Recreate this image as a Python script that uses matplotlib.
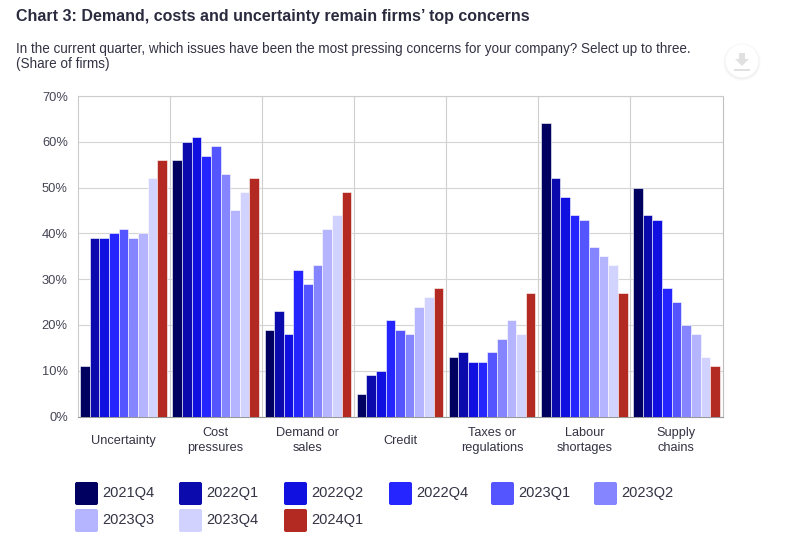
import matplotlib
matplotlib.use("Agg")
import matplotlib.pyplot as plt
import matplotlib.ticker as ticker
from matplotlib.patches import FancyBboxPatch, Circle, Rectangle, Polygon
import numpy as np

plt.rcParams['font.family'] = ['Liberation Sans', 'DejaVu Sans']

W, H = 794, 536

categories = ["Uncertainty", "Cost\npressures", "Demand or\nsales", "Credit",
              "Taxes or\nregulations", "Labour\nshortages", "Supply\nchains"]
quarters = ["2021Q4", "2022Q1", "2022Q2", "2022Q4", "2023Q1", "2023Q2", "2023Q3", "2023Q4", "2024Q1"]
colors = ["#000060", "#0a0aad", "#1010e0", "#2525ff", "#5555ff", "#8585ff", "#b5b5ff", "#d2d2ff", "#b22a22"]

q2021q4 = [11, 56, 19, 5, 13, 64, 50]
q2022q1 = [39, 60, 23, 9, 14, 52, 44]
q2022q2 = [39, 61, 18, 10, 12, 48, 43]
q2022q4 = [40, 57, 32, 21, 12, 44, 28]
q2023q1 = [41, 59, 29, 19, 14, 43, 25]
q2023q2 = [39, 53, 33, 18, 17, 37, 20]
q2023q3 = [40, 45, 41, 24, 21, 35, 18]
q2023q4 = [52, 49, 44, 26, 18, 33, 13]
q2024q1 = [56, 52, 49, 28, 27, 27, 11]
series = [q2021q4, q2022q1, q2022q2, q2022q4, q2023q1, q2023q2, q2023q3, q2023q4, q2024q1]

TEXT = "#333344"

fig = plt.figure(figsize=(W / 100, H / 100), dpi=100)
ax = fig.add_axes([77.5 / W, 1 - 416.5 / H, (722.5 - 77.5) / W, (416.5 - 96) / H])

x = np.arange(len(categories))
bar_w = 0.1045
for i, (vals, c) in enumerate(zip(series, colors)):
    ax.bar(x + (i - 4) * bar_w, vals, width=bar_w, color=c, edgecolor="white",
           linewidth=0.4, zorder=3, label=quarters[i])

ax.set_xlim(-0.5, len(categories) - 0.5)
ax.set_ylim(0, 70)
ax.yaxis.set_major_locator(ticker.MultipleLocator(10))
ax.yaxis.set_major_formatter(ticker.PercentFormatter(decimals=0))
ax.set_xticks(x)
ax.set_xticklabels(categories, linespacing=1.36, va="center")
ax.set_xticks(x[:-1] + 0.5, minor=True)
ax.tick_params(axis="x", which="major", length=0, pad=17.5, labelsize=9.2, colors=TEXT)
ax.tick_params(axis="x", which="minor", length=0)
ax.tick_params(axis="y", length=0, pad=7, labelsize=9.3, colors="#444455")
ax.grid(True, axis="y", which="major", color="#d4d4d4", lw=0.8, zorder=0)
ax.grid(True, axis="x", which="minor", color="#cfcfcf", lw=0.8, zorder=0)
ax.grid(False, axis="x", which="major")
for s in ["top", "right", "left"]:
    ax.spines[s].set_color("#cccccc")
    ax.spines[s].set_linewidth(0.8)
ax.spines["right"].set_color("#c0c0c0")
ax.spines["bottom"].set_color("#999999")
ax.set_axisbelow(True)

# overlay in pixel coordinates for headings, legend and button
ov = fig.add_axes([0, 0, 1, 1], zorder=5)
ov.set_xlim(0, W)
ov.set_ylim(H, 0)
ov.axis("off")

ov.text(16, 16.5, "Chart 3: Demand, costs and uncertainty remain firms\u2019 top concerns",
        fontsize=11.5, fontweight="bold", color="#2b2b3f", va="center", ha="left")
ov.text(16, 48.5, "In the current quarter, which issues have been the most pressing concerns for your company? Select up to three.",
        fontsize=9.75, color=TEXT, va="center", ha="left")
ov.text(16, 64, "(Share of firms)", fontsize=9.75, color=TEXT, va="center", ha="left")

# download button
for r, a in [(19, 0.03), (18, 0.04), (17, 0.05)]:
    ov.add_patch(Circle((742, 62), r, fc="#888888", ec="none", alpha=a))
ov.add_patch(Circle((742, 61), 16.5, fc="white", ec="none"))
ov.add_patch(Polygon([[739, 53], [745, 53], [745, 59], [749, 59], [742, 66], [735, 59], [739, 59]],
                     fc="#e0e0e0", ec="none"))
ov.add_patch(Rectangle((734, 68.5), 16, 2.5, fc="#e0e0e0", ec="none"))

# legend
col_x = [75, 179, 284, 389, 491, 594]
row_y = [482, 509]
for i, (q, c) in enumerate(zip(quarters, colors)):
    px = col_x[i % 6]
    py = row_y[i // 6]
    ov.add_patch(FancyBboxPatch((px + 2, py + 2), 19, 19, boxstyle="round,pad=2,rounding_size=2",
                                fc=c, ec="none"))
    ov.text(px + 27, py + 11, q, fontsize=10.5, color=TEXT, va="center", ha="left")

fig.savefig("out.png", dpi=100, facecolor="white")
